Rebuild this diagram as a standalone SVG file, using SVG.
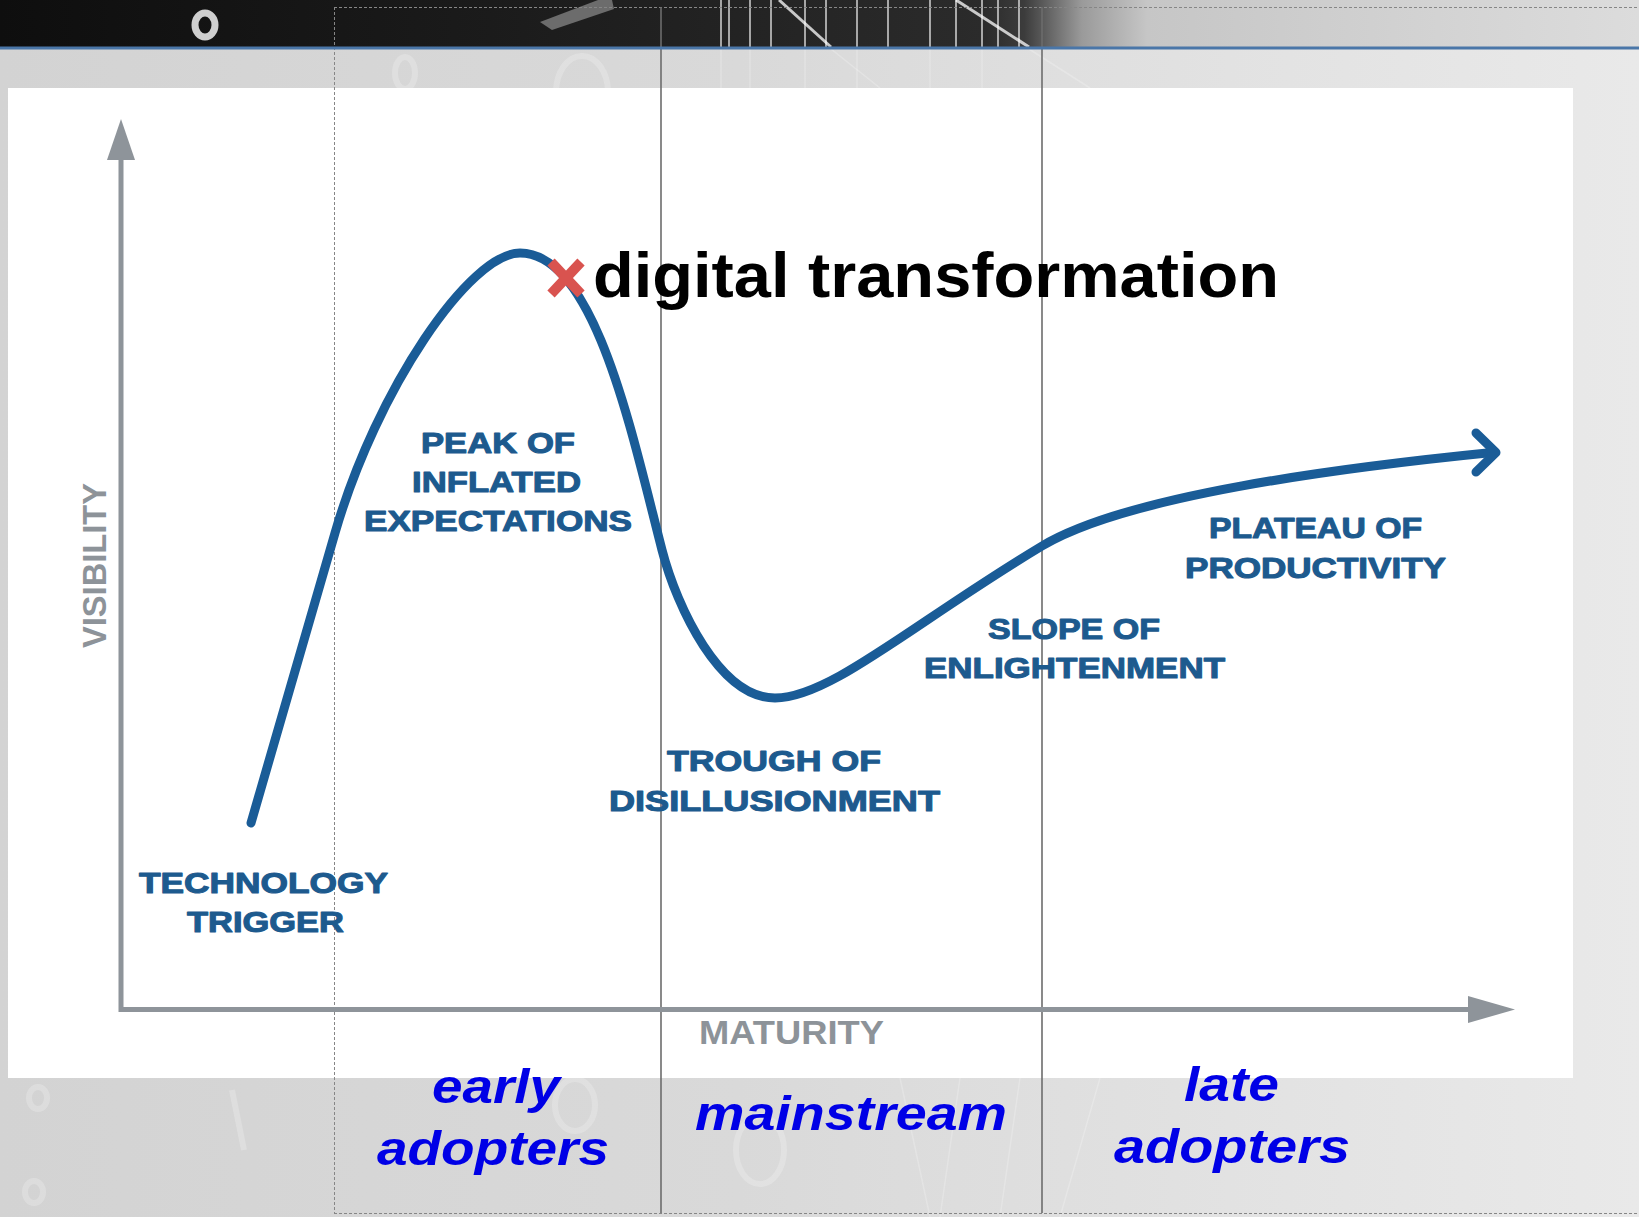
<svg xmlns="http://www.w3.org/2000/svg" width="1639" height="1217" viewBox="0 0 1639 1217">
<defs>
  <linearGradient id="hdr" x1="0" y1="0" x2="1639" y2="0" gradientUnits="userSpaceOnUse">
    <stop offset="0" stop-color="#0e0e0e"/>
    <stop offset="0.3" stop-color="#1b1b1b"/>
    <stop offset="0.6" stop-color="#2b2b2b"/>
    <stop offset="0.625" stop-color="#3c3c3c"/>
    <stop offset="0.66" stop-color="#9a9a9a"/>
    <stop offset="0.7" stop-color="#c6c6c6"/>
    <stop offset="1" stop-color="#dcdcdc"/>
  </linearGradient>
  <linearGradient id="bg" x1="0" y1="0" x2="1639" y2="0" gradientUnits="userSpaceOnUse">
    <stop offset="0" stop-color="#d3d3d3"/>
    <stop offset="0.45" stop-color="#d9d9d9"/>
    <stop offset="0.75" stop-color="#e2e2e2"/>
    <stop offset="1" stop-color="#e9e9e9"/>
  </linearGradient>
</defs>
<style>
  .phase{font-family:"Liberation Sans",Arial,Helvetica,sans-serif;font-weight:bold;font-size:30px;fill:#1d5a8e;stroke:#1d5a8e;stroke-width:1.1px;stroke-linejoin:round}
  .axislabel{font-family:"Liberation Sans",Arial,Helvetica,sans-serif;font-weight:bold;font-size:33px;fill:#8d9399}
  .group{font-family:"Liberation Sans",Arial,Helvetica,sans-serif;font-weight:bold;font-style:italic;font-size:48px;fill:#0000e6}
  .title{font-family:"Liberation Sans",Arial,Helvetica,sans-serif;font-weight:bold;font-size:63px;fill:#000000}
  .axis{fill:none;stroke:#8e949a;stroke-width:5}
  .axishead{fill:#8e949a}
  .hype{fill:none;stroke:#1a5c97;stroke-width:9;stroke-linecap:round;stroke-linejoin:round}
  .divider{stroke:#6c6c6c;stroke-width:1.6}
  .dash{stroke:#868686;stroke-width:1;stroke-dasharray:3 2;fill:none}
  .deco{fill:none;stroke:#ffffff;stroke-opacity:0.22}
  .string{stroke:#ffffff;stroke-width:1.6;stroke-opacity:0.75}
</style>

<g id="background">
  <rect x="0" y="0" width="1639" height="1217" fill="url(#bg)"/>
  <rect x="0" y="0" width="1639" height="47" fill="url(#hdr)"/>
  <ellipse cx="205" cy="25" rx="10" ry="12" fill="none" stroke="#cfcfcf" stroke-width="7"/>
  <polygon points="540,22 598,0 612,0 614,9 552,30" fill="#6c6c6c"/>
  <g class="string">
    <line x1="721" y1="0" x2="721" y2="47"/>
    <line x1="729" y1="0" x2="729" y2="47"/>
    <line x1="750" y1="0" x2="750" y2="47"/>
    <line x1="771" y1="0" x2="771" y2="47"/>
    <line x1="805" y1="0" x2="805" y2="47"/>
    <line x1="826" y1="0" x2="826" y2="47"/>
    <line x1="857" y1="0" x2="857" y2="47"/>
    <line x1="888" y1="0" x2="888" y2="47"/>
    <line x1="930" y1="0" x2="930" y2="47"/>
    <line x1="956" y1="0" x2="956" y2="47"/>
    <line x1="982" y1="0" x2="982" y2="47"/>
    <line x1="998" y1="0" x2="998" y2="47"/>
    <line x1="1019" y1="0" x2="1019" y2="47"/>
    <line x1="779" y1="0" x2="831" y2="47" stroke-width="3"/>
    <line x1="956" y1="0" x2="1029" y2="47" stroke-width="3"/>
  </g>
  <g class="deco" stroke-width="1.5">
    <line x1="721" y1="49" x2="721" y2="88"/>
    <line x1="750" y1="49" x2="750" y2="88"/>
    <line x1="805" y1="49" x2="805" y2="88"/>
    <line x1="857" y1="49" x2="857" y2="88"/>
    <line x1="930" y1="49" x2="930" y2="88"/>
    <line x1="982" y1="49" x2="982" y2="88"/>
    <line x1="831" y1="49" x2="880" y2="88"/>
    <line x1="1029" y1="49" x2="1090" y2="88"/>
    <line x1="900" y1="1078" x2="930" y2="1217"/>
    <line x1="960" y1="1078" x2="940" y2="1217"/>
    <line x1="1020" y1="1078" x2="1000" y2="1217"/>
    <line x1="1100" y1="1078" x2="1060" y2="1217"/>
  </g>
  <g class="deco" stroke-width="6">
    <ellipse cx="405" cy="73" rx="10" ry="16"/>
    <ellipse cx="582" cy="92" rx="26" ry="36"/>
    <ellipse cx="38" cy="1098" rx="9" ry="11"/>
    <ellipse cx="34" cy="1192" rx="9" ry="11"/>
    <ellipse cx="575" cy="1105" rx="20" ry="26"/>
    <ellipse cx="760" cy="1150" rx="24" ry="34"/>
    <line x1="232" y1="1090" x2="244" y2="1150"/>
  </g>
</g>

<rect id="panel" x="8" y="88" width="1565" height="990" fill="#ffffff"/>

<g id="region-dividers">
  <line class="dash" x1="334.5" y1="7" x2="334.5" y2="1213"/>
  <line class="dash" x1="334" y1="7.5" x2="1639" y2="7.5"/>
  <line class="dash" x1="334" y1="1213.5" x2="1639" y2="1213.5"/>
  <line class="divider" x1="661" y1="7" x2="661" y2="1213"/>
  <line class="divider" x1="1042" y1="7" x2="1042" y2="1213"/>
</g>

<rect id="header-rule" x="0" y="46.5" width="1639" height="3" fill="#4a76a8"/>

<g id="connectors">
  <path class="axis" d="M121,158 V1009.5 H1470"/>
  <polygon class="axishead" points="107,160 121,119 135,160"/>
  <polygon class="axishead" points="1468,996 1515,1009.5 1468,1023"/>
  <path id="hype-curve" class="hype" d="M251,823 C279,726 307,630 335,533 C376.7,389 470,253 520,253 C595,253 631.9,433.8 662,550 C677,608 720,698 775,698 C830,698 913.5,623 1042,546 C1127.7,494.6 1342.8,467.5 1492,452.5"/>
  <polyline class="hype" points="1476,433 1496,452.5 1476,472"/>
</g>

<g id="axis-visibility">
  <text class="axislabel" transform="translate(106,565.5) rotate(-90)" x="0" y="0" text-anchor="middle" textLength="165" lengthAdjust="spacingAndGlyphs">VISIBILITY</text>
</g>
<g id="axis-maturity">
  <text class="axislabel" x="699" y="1044" textLength="185" lengthAdjust="spacingAndGlyphs">MATURITY</text>
</g>

<g id="phase-technology-trigger">
  <text class="phase" x="139" y="893" textLength="249" lengthAdjust="spacingAndGlyphs">TECHNOLOGY</text>
  <text class="phase" x="187" y="932" textLength="157" lengthAdjust="spacingAndGlyphs">TRIGGER</text>
</g>
<g id="phase-peak">
  <text class="phase" x="421" y="453" textLength="154" lengthAdjust="spacingAndGlyphs">PEAK OF</text>
  <text class="phase" x="412" y="492" textLength="169" lengthAdjust="spacingAndGlyphs">INFLATED</text>
  <text class="phase" x="364" y="531" textLength="268" lengthAdjust="spacingAndGlyphs">EXPECTATIONS</text>
</g>
<g id="phase-trough">
  <text class="phase" x="667" y="771" textLength="214" lengthAdjust="spacingAndGlyphs">TROUGH OF</text>
  <text class="phase" x="609" y="811" textLength="331" lengthAdjust="spacingAndGlyphs">DISILLUSIONMENT</text>
</g>
<g id="phase-slope">
  <text class="phase" x="988" y="639" textLength="172" lengthAdjust="spacingAndGlyphs">SLOPE OF</text>
  <text class="phase" x="924" y="678" textLength="301" lengthAdjust="spacingAndGlyphs">ENLIGHTENMENT</text>
</g>
<g id="phase-plateau">
  <text class="phase" x="1209" y="538" textLength="213" lengthAdjust="spacingAndGlyphs">PLATEAU OF</text>
  <text class="phase" x="1185" y="578" textLength="261" lengthAdjust="spacingAndGlyphs">PRODUCTIVITY</text>
</g>

<g id="marker-digital-transformation">
  <g stroke="#d9534f" stroke-width="10">
    <line x1="551" y1="262" x2="581" y2="294"/>
    <line x1="581" y1="262" x2="551" y2="294"/>
  </g>
  <text class="title" x="593" y="297" textLength="686" lengthAdjust="spacingAndGlyphs">digital transformation</text>
</g>

<g id="group-early-adopters">
  <text class="group" x="432" y="1103" textLength="128" lengthAdjust="spacingAndGlyphs">early</text>
  <text class="group" x="377" y="1165" textLength="232" lengthAdjust="spacingAndGlyphs">adopters</text>
</g>
<g id="group-mainstream">
  <text class="group" x="695" y="1130" textLength="312" lengthAdjust="spacingAndGlyphs">mainstream</text>
</g>
<g id="group-late-adopters">
  <text class="group" x="1184" y="1101" textLength="95" lengthAdjust="spacingAndGlyphs">late</text>
  <text class="group" x="1114" y="1163" textLength="236" lengthAdjust="spacingAndGlyphs">adopters</text>
</g>
</svg>
